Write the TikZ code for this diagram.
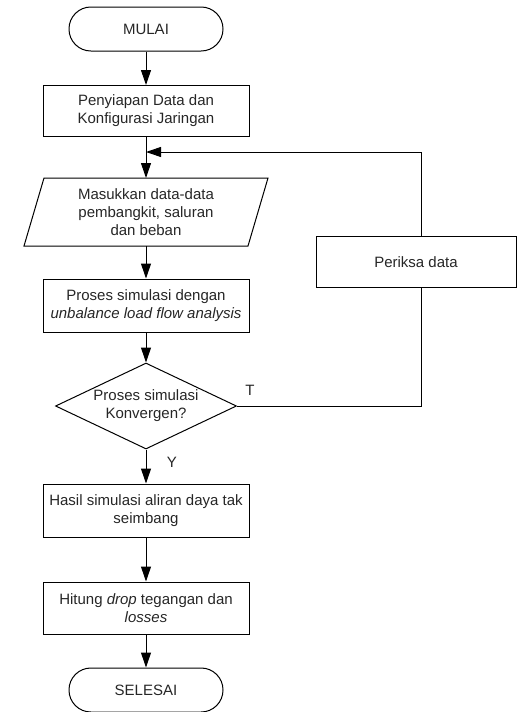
\documentclass[tikz,border=0pt]{standalone}
\usepackage{fontspec}
\setmainfont{Liberation Sans}
\usetikzlibrary{arrows.meta,shapes.geometric}
\begin{document}
\begin{tikzpicture}[x=1pt,y=-1pt,
  every node/.style={font=\fontsize{15}{17.8}\selectfont, align=center, text=black!85},
  box/.style={draw=black, line width=1pt, minimum width=206pt, minimum height=52pt, inner sep=0pt},
  term/.style={draw=black, line width=1pt, rounded corners=21.9pt, minimum width=154pt, minimum height=44pt, inner sep=0pt},
  dec/.style={draw=black, diamond, line width=1pt, aspect=2.1, minimum width=181pt, minimum height=86pt, inner sep=0pt},
  flow/.style={line width=1pt, -{Triangle[length=15pt,width=10pt]}},
  link/.style={line width=1pt}]
\useasboundingbox (0,0) rectangle (517,712);
% nodes
\node[term] (start) at (146,29) {MULAI};
\node[box, minimum height=51pt] (prep) at (146,111) {Penyiapan Data dan\\Konfigurasi Jaringan};
\node (input) at (146,212) {Masukkan data-data\\pembangkit, saluran\\dan beban};
\draw[link] (44,178) -- (268,178) -- (248,246) -- (24,246) -- cycle;
\coordinate (inTop) at (146,178);
\coordinate (inBot) at (146,246);
\coordinate (join) at (146,152);
\node[box, minimum height=53pt] (sim) at (146,305.5) {Proses simulasi dengan\\\textit{unbalance load flow analysis}};
\node[dec] (dec) at (146,406) {Proses simulasi\\Konvergen?};
\node[box, minimum height=53pt] (res) at (146,510.5) {Hasil simulasi aliran daya tak\\seimbang};
\node[box, minimum height=52pt] (calc) at (146,608) {Hitung \textit{drop} tegangan dan\\\textit{losses}};
\node[term] (stop) at (146,690) {SELESAI};
\node[box, minimum width=200pt, minimum height=51pt] (check) at (416,262) {Periksa data};
\node (tl) at (250,390) {T};
\node (yl) at (172,462) {Y};
% connectors
\draw[flow] (start) -- (prep);
\draw[flow] (prep) -- (inTop);
\draw[flow] (inBot) -- (sim);
\draw[flow] (sim) -- (dec);
\draw[flow] (dec) -- (res);
\draw[flow] (res) -- (calc);
\draw[flow] (calc) -- (stop);
\coordinate (c1) at (421,406);
\coordinate (c2) at (421,152);
\draw[link] (dec.east) -- (c1) -- (c1 |- check.south);
\draw[flow] (c1 |- check.north) -- (c2) -- (join);
\end{tikzpicture}
\end{document}
